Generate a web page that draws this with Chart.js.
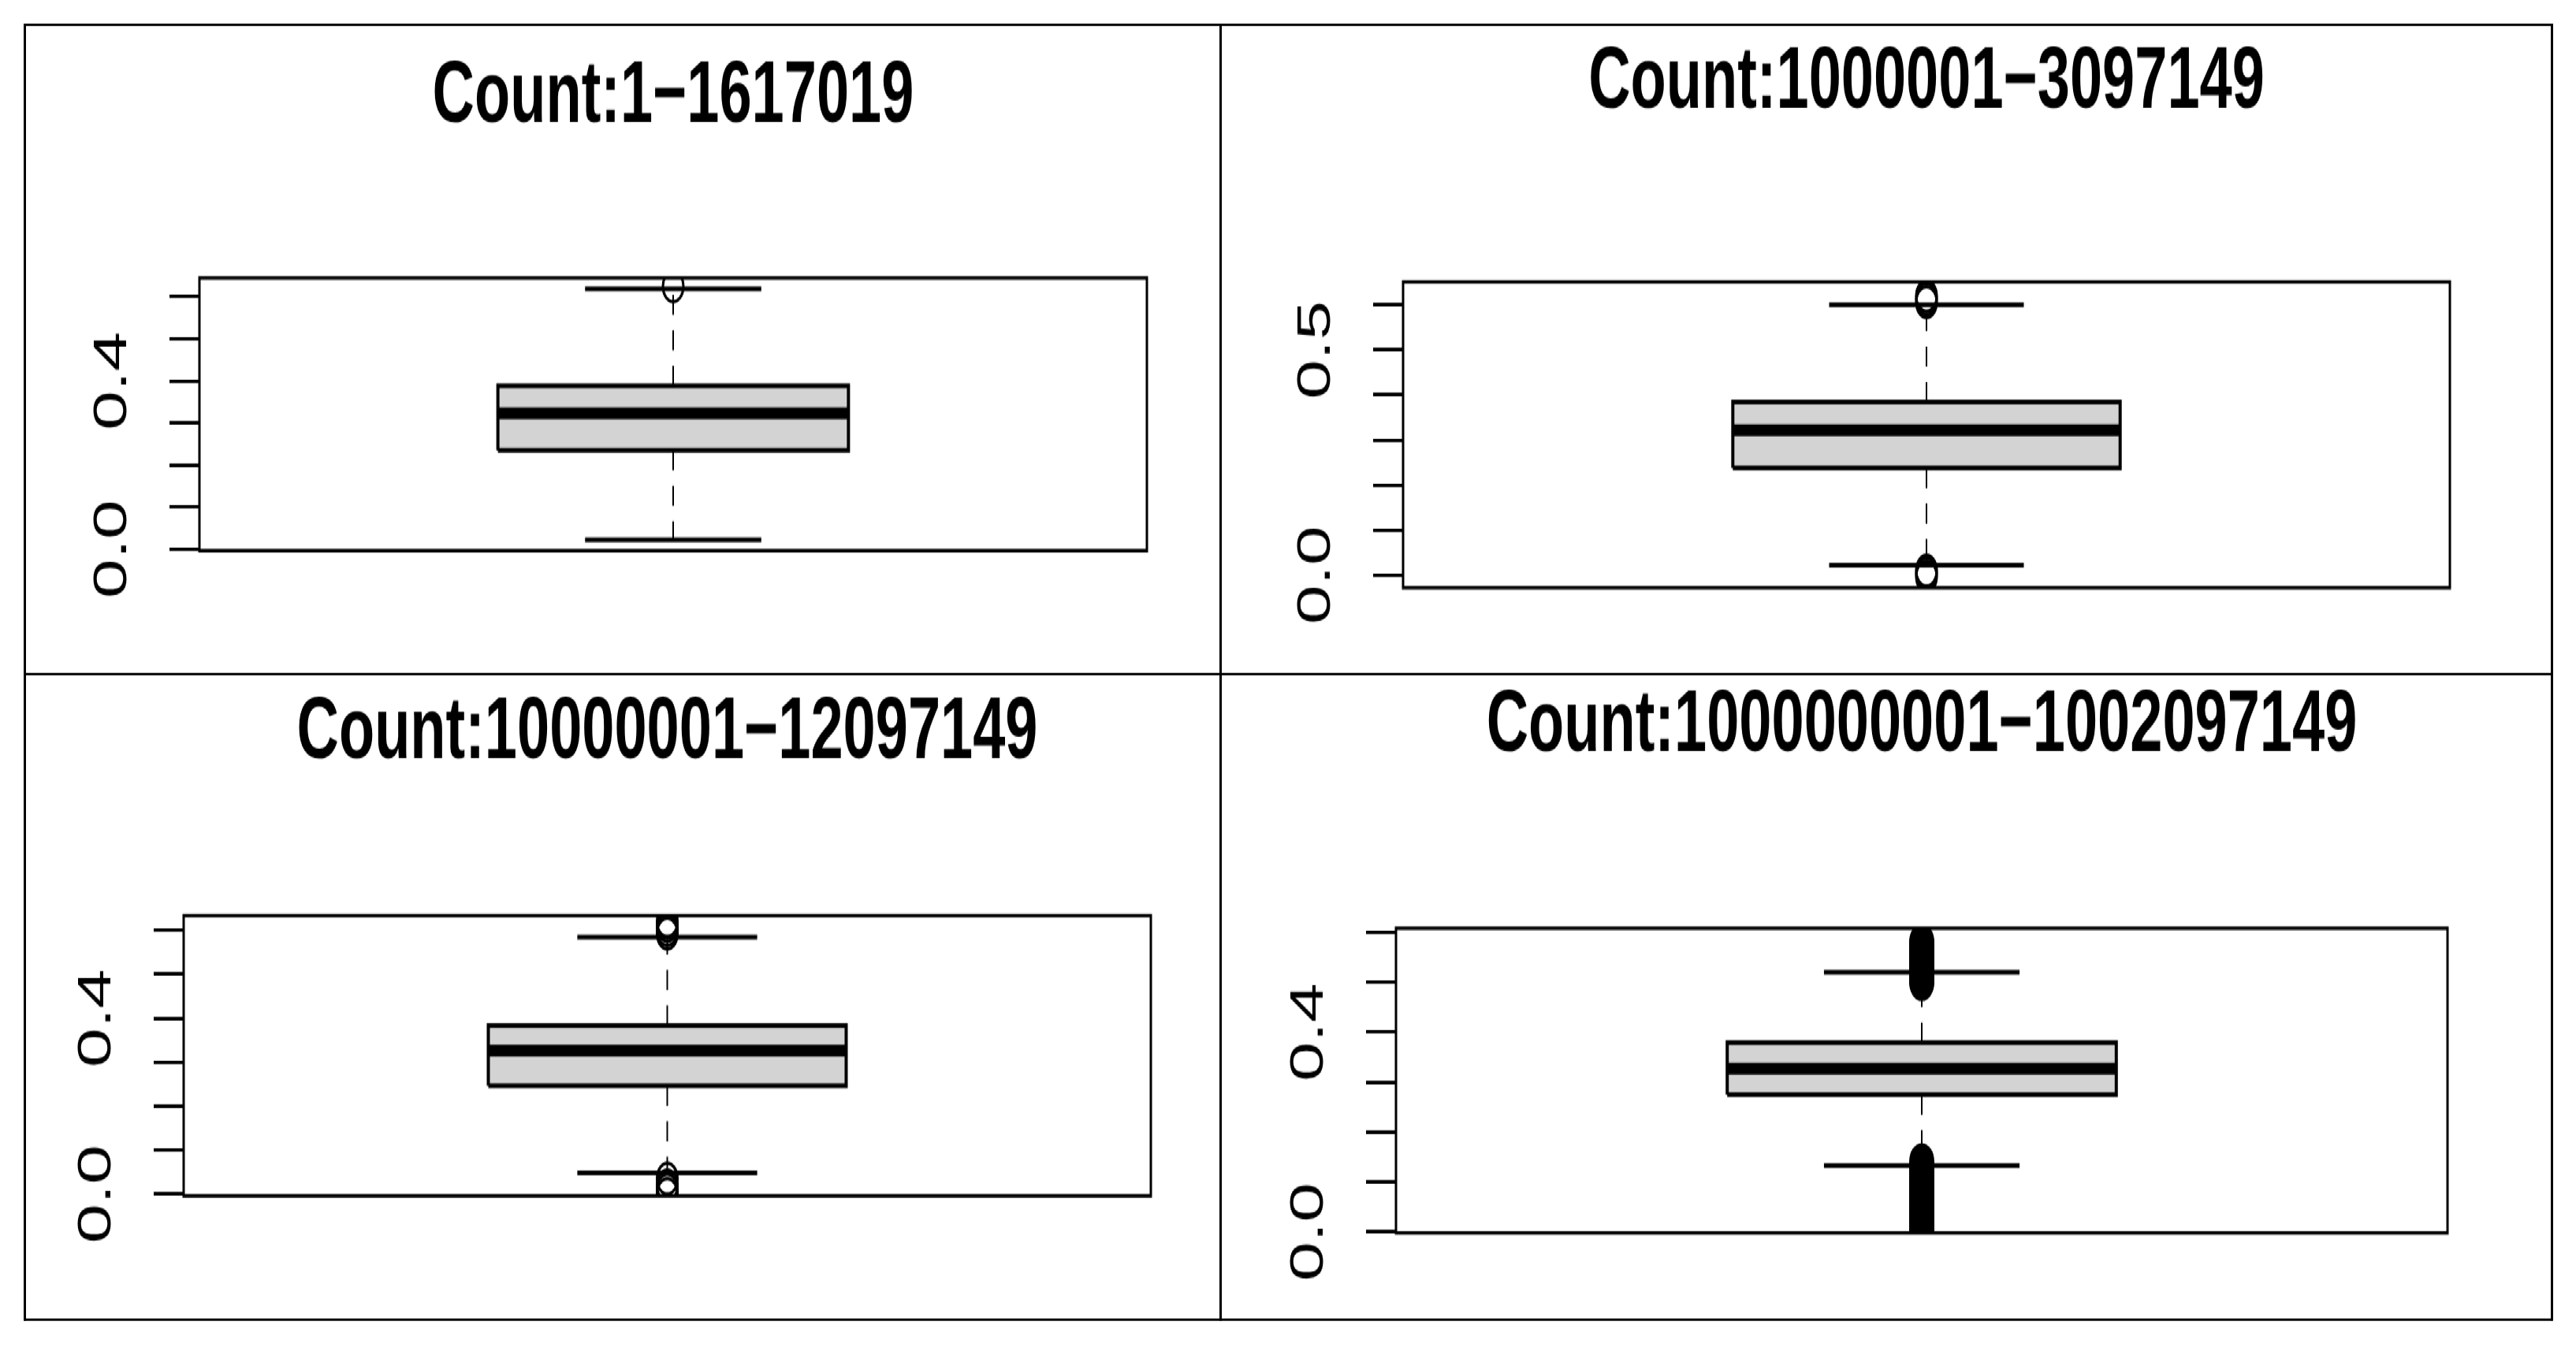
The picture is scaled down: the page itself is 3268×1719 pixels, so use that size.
<!DOCTYPE html>
<html>
<head>
<meta charset="utf-8">
<script src="https://cdn.jsdelivr.net/npm/chart.js@4.4.1/dist/chart.umd.min.js"></script>
<style>
  html, body { margin: 0; padding: 0; background: #fff; }
  body { width: 3268px; height: 1719px; overflow: hidden; }
  #stage { position: absolute; left: 0; top: 0; width: 3268px; transform-origin: 0 0; }
  .rule { position: absolute; background: #000; }
  canvas { position: absolute; }
</style>
</head>
<body>
<div id="stage"></div>
<script>
// ---- data ----
const titles = ['Count:1\u22121617019', 'Count:1000001\u22123097149', 'Count:10000001\u221212097149', 'Count:1000000001\u22121002097149'];
const q1 = [0.235, 0.238, 0.246, 0.275];
const median = [0.323, 0.322, 0.326, 0.327];
const q3 = [0.388, 0.384, 0.383, 0.379];
const whiskerLow = [0.022, 0.022, 0.048, 0.133];
const whiskerHigh = [0.619, 0.600, 0.584, 0.520];
const outliers = [
  [0.625],
  [0.606, 0.613, 0.62, -0.003, 0.004, 0.01],
  [0.592, 0.600, 0.610, 0.620, 0.0, 0.010, 0.020, 0.035],
  [0.50, 0.505, 0.51, 0.515, 0.52, 0.525, 0.53, 0.535, 0.54, 0.545, 0.55, 0.555, 0.56, 0.565, 0.57, 0.575, 0.58,
   0.005, 0.012, 0.02, 0.028, 0.035, 0.042, 0.05, 0.058, 0.065, 0.072, 0.08, 0.088, 0.095, 0.102, 0.11, 0.118, 0.125, 0.132, 0.14]
];
const yMin = [-0.004, -0.028, -0.004, -0.002];
const yMax = [0.645, 0.651, 0.633, 0.608];
const yTicks = [0, 0.1, 0.2, 0.3, 0.4, 0.5, 0.6];
const labelled = [[0, 0.4], [0, 0.5], [0, 0.4], [0, 0.4]];

// ---- layout (full picture px) ----
const S = 1.5; // vertical stretch of the picture
const panels = [
  { x0: 31,   y0: 31,  w: 1517, h: 822, left: 253,  right: 1455, top: 352,  bottom: 698,  tc: 123 },
  { x0: 1548, y0: 31,  w: 1689, h: 822, left: 1780, right: 3108, top: 357,  bottom: 745,  tc: 106 },
  { x0: 31,   y0: 853, w: 1517, h: 820, left: 233,  right: 1460, top: 1161, bottom: 1516, tc: 930 },
  { x0: 1548, y0: 853, w: 1689, h: 820, left: 1771, right: 3105, top: 1177, bottom: 1563, tc: 922 }
];

const stage = document.getElementById('stage');
stage.style.height = (1719 / S) + 'px';
stage.style.transform = 'scaleY(' + S + ')';

function rule(x, y, w, h) {
  const d = document.createElement('div');
  d.className = 'rule';
  d.style.left = x + 'px'; d.style.top = (y / S) + 'px';
  d.style.width = w + 'px'; d.style.height = (h / S) + 'px';
  stage.appendChild(d);
}
rule(31, 30, 3207, 3); rule(31, 1672, 3207, 3); rule(31, 853, 3207, 3);
rule(30, 30, 3, 1645); rule(3236, 30, 3, 1645); rule(1547, 30, 3, 1645);

const frame = {
  id: 'frame',
  afterDatasetsDraw(chart) {
    const a = chart.chartArea, c = chart.ctx;
    c.save(); c.strokeStyle = '#000'; c.lineWidth = 3;
    c.strokeRect(a.left, a.top, a.right - a.left, a.bottom - a.top);
    c.restore();
  }
};

const BOX = 0.185, CAP = 0.093, FS = 74;

panels.forEach((p, i) => {
  const cv = document.createElement('canvas');
  const W = p.w, H = Math.round(p.h / S);
  cv.width = W; cv.height = H;
  cv.style.left = p.x0 + 'px'; cv.style.top = (p.y0 / S) + 'px';
  cv.style.width = W + 'px'; cv.style.height = H + 'px';
  stage.appendChild(cv);

  const padTop = (p.tc - p.y0) / S - FS / 2;
  const padBottom = (p.top - p.y0) / S - padTop - FS;
  const axisW = p.left - p.x0;

  const line = (pts, w, order, extra) => Object.assign({
    type: 'scatter', showLine: true, data: pts, borderColor: '#000', borderWidth: w,
    pointRadius: 0, tension: 0, fill: false, order
  }, extra || {});

  // lower order is drawn on top
  const datasets = [
    line([{x: 1 - BOX, y: q1[i]}, {x: 1 + BOX, y: q1[i]}, {x: 1 + BOX, y: q3[i]}, {x: 1 - BOX, y: q3[i]}, {x: 1 - BOX, y: q1[i]}],
         4, 5, { fill: 'shape', backgroundColor: '#d3d3d3' }),
    line([{x: 1 - BOX, y: median[i]}, {x: 1 + BOX, y: median[i]}], 10, 1),
    line([{x: 1, y: q3[i]}, {x: 1, y: whiskerHigh[i]}], 2, 3, { borderDash: [17, 13] }),
    line([{x: 1, y: q1[i]}, {x: 1, y: whiskerLow[i]}], 2, 3, { borderDash: [17, 13] }),
    line([{x: 1 - CAP, y: whiskerHigh[i]}, {x: 1 + CAP, y: whiskerHigh[i]}], 4, 2),
    line([{x: 1 - CAP, y: whiskerLow[i]}, {x: 1 + CAP, y: whiskerLow[i]}], 4, 2),
    { type: 'scatter', order: 0, data: outliers[i].map(v => ({x: 1, y: v})), pointRadius: 13, pointStyle: 'circle',
      borderColor: '#000', borderWidth: i === 3 ? 6 : 3, backgroundColor: 'rgba(0,0,0,0)' }
  ];

  new Chart(cv, {
    type: 'scatter',
    data: { datasets },
    plugins: [frame],
    options: {
      responsive: false, animation: false, devicePixelRatio: 1,
      layout: { padding: { left: 0, top: 0, right: p.x0 + p.w - p.right, bottom: (p.y0 + p.h - p.bottom) / S } },
      plugins: {
        legend: { display: false }, tooltip: { enabled: false },
        title: { display: true, fullSize: false, text: titles[i], color: '#000',
          font: { family: 'Liberation Sans, Arial, sans-serif', size: FS, weight: 'bold', lineHeight: 1 },
          padding: { top: padTop, bottom: padBottom } }
      },
      scales: {
        x: { type: 'linear', min: 0.5, max: 1.5, display: false },
        y: {
          type: 'linear', min: yMin[i], max: yMax[i],
          afterBuildTicks: s => { s.ticks = yTicks.map(v => ({ value: v })); },
          afterFit: s => { s.width = axisW; },
          border: { display: false },
          grid: { drawOnChartArea: false, drawTicks: true, tickLength: 38, tickWidth: 3, color: '#000' },
          ticks: {
            color: '#000', autoSkip: false, minRotation: 90, maxRotation: 90, crossAlign: 'center', padding: 30,
            font: { family: 'Liberation Sans, Arial, sans-serif', size: 60 },
            callback: v => labelled[i].some(l => Math.abs(l - v) < 1e-6) ? v.toFixed(1) : ''
          }
        }
      }
    }
  });
});
</script>
</body>
</html>
